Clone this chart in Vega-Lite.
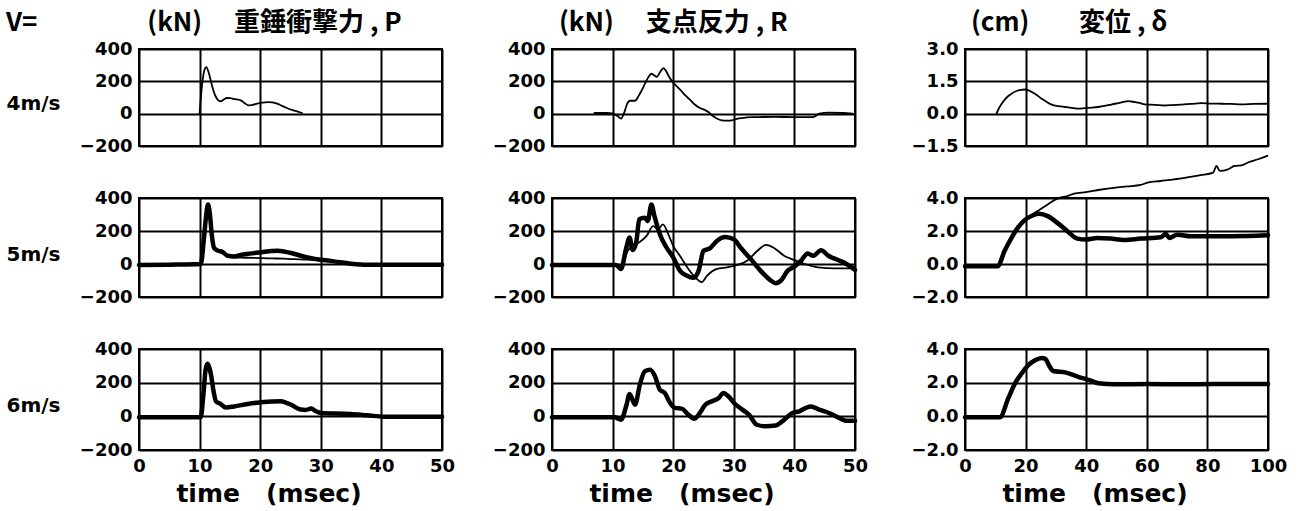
{
  "$schema": "https://vega.github.io/schema/vega-lite/v6.json",
  "background": "white",
  "padding": {"left": 5, "top": 9, "right": 10, "bottom": 5},
  "datasets": {
    "d": [
      {"v":"4","q":"P","s":"B","t":10.0,"y":0},{"v":"4","q":"P","s":"B","t":10.4,"y":175},{"v":"4","q":"P","s":"B","t":10.8,"y":270},{"v":"4","q":"P","s":"B","t":11.1,"y":288},{"v":"4","q":"P","s":"B","t":11.5,"y":255},{"v":"4","q":"P","s":"B","t":11.9,"y":195},{"v":"4","q":"P","s":"B","t":12.3,"y":140},{"v":"4","q":"P","s":"B","t":12.7,"y":103},{"v":"4","q":"P","s":"B","t":13.1,"y":82},{"v":"4","q":"P","s":"B","t":13.5,"y":76},{"v":"4","q":"P","s":"B","t":14.0,"y":88},{"v":"4","q":"P","s":"B","t":14.5,"y":97},{"v":"4","q":"P","s":"B","t":15.1,"y":96},{"v":"4","q":"P","s":"B","t":15.6,"y":92},{"v":"4","q":"P","s":"B","t":16.2,"y":88},{"v":"4","q":"P","s":"B","t":16.8,"y":82},{"v":"4","q":"P","s":"B","t":17.4,"y":66},{"v":"4","q":"P","s":"B","t":18.1,"y":51},{"v":"4","q":"P","s":"B","t":18.8,"y":55},{"v":"4","q":"P","s":"B","t":19.5,"y":62},{"v":"4","q":"P","s":"B","t":20.3,"y":68},{"v":"4","q":"P","s":"B","t":21.2,"y":72},{"v":"4","q":"P","s":"B","t":22.0,"y":70},{"v":"4","q":"P","s":"B","t":22.8,"y":62},{"v":"4","q":"P","s":"B","t":23.6,"y":48},{"v":"4","q":"P","s":"B","t":24.4,"y":35},{"v":"4","q":"P","s":"B","t":25.5,"y":20},{"v":"4","q":"P","s":"B","t":26.9,"y":4},

      {"v":"4","q":"R","s":"B","t":7.0,"y":4},{"v":"4","q":"R","s":"B","t":9.0,"y":4},{"v":"4","q":"R","s":"B","t":10.0,"y":2},{"v":"4","q":"R","s":"B","t":10.8,"y":-15},{"v":"4","q":"R","s":"B","t":11.4,"y":-31},{"v":"4","q":"R","s":"B","t":11.9,"y":5},{"v":"4","q":"R","s":"B","t":12.4,"y":60},{"v":"4","q":"R","s":"B","t":12.8,"y":80},{"v":"4","q":"R","s":"B","t":13.3,"y":80},{"v":"4","q":"R","s":"B","t":13.7,"y":80},{"v":"4","q":"R","s":"B","t":14.3,"y":110},{"v":"4","q":"R","s":"B","t":14.8,"y":144},{"v":"4","q":"R","s":"B","t":15.4,"y":190},{"v":"4","q":"R","s":"B","t":15.9,"y":226},{"v":"4","q":"R","s":"B","t":16.4,"y":247},{"v":"4","q":"R","s":"B","t":16.9,"y":236},{"v":"4","q":"R","s":"B","t":17.3,"y":228},{"v":"4","q":"R","s":"B","t":17.8,"y":255},{"v":"4","q":"R","s":"B","t":18.4,"y":282},{"v":"4","q":"R","s":"B","t":18.8,"y":265},{"v":"4","q":"R","s":"B","t":19.2,"y":236},{"v":"4","q":"R","s":"B","t":19.8,"y":200},{"v":"4","q":"R","s":"B","t":20.3,"y":180},{"v":"4","q":"R","s":"B","t":21.1,"y":150},{"v":"4","q":"R","s":"B","t":22.0,"y":113},{"v":"4","q":"R","s":"B","t":22.8,"y":85},{"v":"4","q":"R","s":"B","t":23.6,"y":55},{"v":"4","q":"R","s":"B","t":24.4,"y":35},{"v":"4","q":"R","s":"B","t":25.3,"y":21},{"v":"4","q":"R","s":"B","t":25.9,"y":8},{"v":"4","q":"R","s":"B","t":26.4,"y":-10},{"v":"4","q":"R","s":"B","t":27.2,"y":-30},{"v":"4","q":"R","s":"B","t":28.0,"y":-41},{"v":"4","q":"R","s":"B","t":28.9,"y":-43},{"v":"4","q":"R","s":"B","t":29.7,"y":-41},{"v":"4","q":"R","s":"B","t":30.5,"y":-32},{"v":"4","q":"R","s":"B","t":31.4,"y":-27},{"v":"4","q":"R","s":"B","t":33.0,"y":-22},{"v":"4","q":"R","s":"B","t":34.1,"y":-21},{"v":"4","q":"R","s":"B","t":36.9,"y":-20},{"v":"4","q":"R","s":"B","t":39.7,"y":-21},{"v":"4","q":"R","s":"B","t":43.0,"y":-21},{"v":"4","q":"R","s":"B","t":43.6,"y":-12},{"v":"4","q":"R","s":"B","t":44.1,"y":0},{"v":"4","q":"R","s":"B","t":45.7,"y":6},{"v":"4","q":"R","s":"B","t":48.0,"y":4},{"v":"4","q":"R","s":"B","t":49.6,"y":0},

      {"v":"4","q":"D","s":"B","t":10.4,"y":0},{"v":"4","q":"D","s":"B","t":11.2,"y":0.25},{"v":"4","q":"D","s":"B","t":12.1,"y":0.46},{"v":"4","q":"D","s":"B","t":13.2,"y":0.66},{"v":"4","q":"D","s":"B","t":14.3,"y":0.82},{"v":"4","q":"D","s":"B","t":15.6,"y":0.95},{"v":"4","q":"D","s":"B","t":17.0,"y":1.05},{"v":"4","q":"D","s":"B","t":18.4,"y":1.10},{"v":"4","q":"D","s":"B","t":19.8,"y":1.12},{"v":"4","q":"D","s":"B","t":21.2,"y":1.07},{"v":"4","q":"D","s":"B","t":22.5,"y":0.97},{"v":"4","q":"D","s":"B","t":23.9,"y":0.84},{"v":"4","q":"D","s":"B","t":25.3,"y":0.69},{"v":"4","q":"D","s":"B","t":26.9,"y":0.55},{"v":"4","q":"D","s":"B","t":28.6,"y":0.42},{"v":"4","q":"D","s":"B","t":30.8,"y":0.35},{"v":"4","q":"D","s":"B","t":33.0,"y":0.31},{"v":"4","q":"D","s":"B","t":35.2,"y":0.27},{"v":"4","q":"D","s":"B","t":37.4,"y":0.23},{"v":"4","q":"D","s":"B","t":39.8,"y":0.26},{"v":"4","q":"D","s":"B","t":42.0,"y":0.28},{"v":"4","q":"D","s":"B","t":44.0,"y":0.31},{"v":"4","q":"D","s":"B","t":46.8,"y":0.38},{"v":"4","q":"D","s":"B","t":49.5,"y":0.46},{"v":"4","q":"D","s":"B","t":51.7,"y":0.52},{"v":"4","q":"D","s":"B","t":53.8,"y":0.58},{"v":"4","q":"D","s":"B","t":56.0,"y":0.54},{"v":"4","q":"D","s":"B","t":57.6,"y":0.50},{"v":"4","q":"D","s":"B","t":59.3,"y":0.43},{"v":"4","q":"D","s":"B","t":62.6,"y":0.41},{"v":"4","q":"D","s":"B","t":65.9,"y":0.38},{"v":"4","q":"D","s":"B","t":68.6,"y":0.40},{"v":"4","q":"D","s":"B","t":71.4,"y":0.42},{"v":"4","q":"D","s":"B","t":74.7,"y":0.45},{"v":"4","q":"D","s":"B","t":78.0,"y":0.49},{"v":"4","q":"D","s":"B","t":81.3,"y":0.47},{"v":"4","q":"D","s":"B","t":84.6,"y":0.46},{"v":"4","q":"D","s":"B","t":87.9,"y":0.45},{"v":"4","q":"D","s":"B","t":91.2,"y":0.43},{"v":"4","q":"D","s":"B","t":95.3,"y":0.45},{"v":"4","q":"D","s":"B","t":99.5,"y":0.46},

      {"v":"5","q":"P","s":"A","t":0,"y":-6},{"v":"5","q":"P","s":"A","t":5,"y":-4},{"v":"5","q":"P","s":"A","t":10.2,"y":0},{"v":"5","q":"P","s":"A","t":10.7,"y":150},{"v":"5","q":"P","s":"A","t":11.1,"y":300},{"v":"5","q":"P","s":"A","t":11.4,"y":360},{"v":"5","q":"P","s":"A","t":11.7,"y":300},{"v":"5","q":"P","s":"A","t":12.0,"y":180},{"v":"5","q":"P","s":"A","t":12.4,"y":97},{"v":"5","q":"P","s":"A","t":13.0,"y":81},{"v":"5","q":"P","s":"A","t":13.8,"y":73},{"v":"5","q":"P","s":"A","t":14.6,"y":50},{"v":"5","q":"P","s":"A","t":15.7,"y":46},{"v":"5","q":"P","s":"A","t":16.8,"y":55},{"v":"5","q":"P","s":"A","t":17.9,"y":61},{"v":"5","q":"P","s":"A","t":19.0,"y":66},{"v":"5","q":"P","s":"A","t":20.1,"y":71},{"v":"5","q":"P","s":"A","t":21.5,"y":77},{"v":"5","q":"P","s":"A","t":22.9,"y":81},{"v":"5","q":"P","s":"A","t":24.0,"y":75},{"v":"5","q":"P","s":"A","t":25.1,"y":67},{"v":"5","q":"P","s":"A","t":26.4,"y":53},{"v":"5","q":"P","s":"A","t":27.8,"y":40},{"v":"5","q":"P","s":"A","t":29.0,"y":31},{"v":"5","q":"P","s":"A","t":30.0,"y":26},{"v":"5","q":"P","s":"A","t":32.2,"y":16},{"v":"5","q":"P","s":"A","t":35.0,"y":2},{"v":"5","q":"P","s":"A","t":37.7,"y":-4},{"v":"5","q":"P","s":"A","t":43.2,"y":-4},{"v":"5","q":"P","s":"A","t":50.0,"y":-4},

      {"v":"5","q":"P","s":"B","t":10.2,"y":0},{"v":"5","q":"P","s":"B","t":10.7,"y":140},{"v":"5","q":"P","s":"B","t":11.1,"y":290},{"v":"5","q":"P","s":"B","t":11.4,"y":340},{"v":"5","q":"P","s":"B","t":11.7,"y":290},{"v":"5","q":"P","s":"B","t":12.0,"y":170},{"v":"5","q":"P","s":"B","t":12.4,"y":95},{"v":"5","q":"P","s":"B","t":13.0,"y":78},{"v":"5","q":"P","s":"B","t":13.8,"y":65},{"v":"5","q":"P","s":"B","t":14.6,"y":48},{"v":"5","q":"P","s":"B","t":15.7,"y":40},{"v":"5","q":"P","s":"B","t":17.5,"y":38},{"v":"5","q":"P","s":"B","t":20.1,"y":36},{"v":"5","q":"P","s":"B","t":22.0,"y":34},{"v":"5","q":"P","s":"B","t":23.9,"y":32},{"v":"5","q":"P","s":"B","t":25.8,"y":29},{"v":"5","q":"P","s":"B","t":27.8,"y":26},{"v":"5","q":"P","s":"B","t":30.0,"y":20},{"v":"5","q":"P","s":"B","t":32.2,"y":12},{"v":"5","q":"P","s":"B","t":35.0,"y":4},{"v":"5","q":"P","s":"B","t":37.7,"y":0},{"v":"5","q":"P","s":"B","t":42.0,"y":-2},{"v":"5","q":"P","s":"B","t":50.0,"y":-2},

      {"v":"5","q":"R","s":"A","t":0,"y":-6},{"v":"5","q":"R","s":"A","t":10.6,"y":-6},{"v":"5","q":"R","s":"A","t":11.4,"y":-30},{"v":"5","q":"R","s":"A","t":12.2,"y":90},{"v":"5","q":"R","s":"A","t":12.8,"y":160},{"v":"5","q":"R","s":"A","t":13.3,"y":85},{"v":"5","q":"R","s":"A","t":13.9,"y":131},{"v":"5","q":"R","s":"A","t":14.4,"y":271},{"v":"5","q":"R","s":"A","t":15.3,"y":281},{"v":"5","q":"R","s":"A","t":15.8,"y":261},{"v":"5","q":"R","s":"A","t":16.4,"y":360},{"v":"5","q":"R","s":"A","t":16.9,"y":291},{"v":"5","q":"R","s":"A","t":17.8,"y":180},{"v":"5","q":"R","s":"A","t":18.9,"y":100},{"v":"5","q":"R","s":"A","t":20.0,"y":40},{"v":"5","q":"R","s":"A","t":21.1,"y":-40},{"v":"5","q":"R","s":"A","t":22.2,"y":-70},{"v":"5","q":"R","s":"A","t":23.3,"y":-84},{"v":"5","q":"R","s":"A","t":24.2,"y":-40},{"v":"5","q":"R","s":"A","t":25.0,"y":80},{"v":"5","q":"R","s":"A","t":26.1,"y":96},{"v":"5","q":"R","s":"A","t":27.2,"y":140},{"v":"5","q":"R","s":"A","t":28.6,"y":164},{"v":"5","q":"R","s":"A","t":30.0,"y":150},{"v":"5","q":"R","s":"A","t":31.1,"y":100},{"v":"5","q":"R","s":"A","t":32.8,"y":30},{"v":"5","q":"R","s":"A","t":34.4,"y":-40},{"v":"5","q":"R","s":"A","t":36.1,"y":-100},{"v":"5","q":"R","s":"A","t":36.9,"y":-116},{"v":"5","q":"R","s":"A","t":37.8,"y":-100},{"v":"5","q":"R","s":"A","t":38.9,"y":-40},{"v":"5","q":"R","s":"A","t":40.0,"y":-16},{"v":"5","q":"R","s":"A","t":41.1,"y":20},{"v":"5","q":"R","s":"A","t":42.2,"y":64},{"v":"5","q":"R","s":"A","t":43.1,"y":50},{"v":"5","q":"R","s":"A","t":44.4,"y":84},{"v":"5","q":"R","s":"A","t":45.6,"y":50},{"v":"5","q":"R","s":"A","t":47.2,"y":24},{"v":"5","q":"R","s":"A","t":48.6,"y":0},{"v":"5","q":"R","s":"A","t":50.0,"y":-36},

      {"v":"5","q":"R","s":"B","t":0,"y":-4},{"v":"5","q":"R","s":"B","t":10.6,"y":-4},{"v":"5","q":"R","s":"B","t":11.4,"y":-20},{"v":"5","q":"R","s":"B","t":12.5,"y":80},{"v":"5","q":"R","s":"B","t":13.3,"y":110},{"v":"5","q":"R","s":"B","t":14.4,"y":131},{"v":"5","q":"R","s":"B","t":15.6,"y":170},{"v":"5","q":"R","s":"B","t":16.7,"y":230},{"v":"5","q":"R","s":"B","t":17.5,"y":210},{"v":"5","q":"R","s":"B","t":18.3,"y":240},{"v":"5","q":"R","s":"B","t":19.2,"y":180},{"v":"5","q":"R","s":"B","t":20.0,"y":110},{"v":"5","q":"R","s":"B","t":21.1,"y":50},{"v":"5","q":"R","s":"B","t":22.5,"y":-30},{"v":"5","q":"R","s":"B","t":23.9,"y":-90},{"v":"5","q":"R","s":"B","t":24.7,"y":-110},{"v":"5","q":"R","s":"B","t":25.6,"y":-70},{"v":"5","q":"R","s":"B","t":27.2,"y":-30},{"v":"5","q":"R","s":"B","t":28.9,"y":-20},{"v":"5","q":"R","s":"B","t":30.6,"y":-6},{"v":"5","q":"R","s":"B","t":32.2,"y":20},{"v":"5","q":"R","s":"B","t":33.9,"y":80},{"v":"5","q":"R","s":"B","t":35.3,"y":116},{"v":"5","q":"R","s":"B","t":36.7,"y":96},{"v":"5","q":"R","s":"B","t":38.3,"y":50},{"v":"5","q":"R","s":"B","t":40.0,"y":24},{"v":"5","q":"R","s":"B","t":41.7,"y":0},{"v":"5","q":"R","s":"B","t":43.9,"y":-20},{"v":"5","q":"R","s":"B","t":46.7,"y":-26},{"v":"5","q":"R","s":"B","t":50.0,"y":-26},

      {"v":"5","q":"D","s":"A","t":0,"y":-0.14},{"v":"5","q":"D","s":"A","t":10.8,"y":-0.14},{"v":"5","q":"D","s":"A","t":13.0,"y":0.77},{"v":"5","q":"D","s":"A","t":15.2,"y":1.54},{"v":"5","q":"D","s":"A","t":17.4,"y":2.19},{"v":"5","q":"D","s":"A","t":19.6,"y":2.64},{"v":"5","q":"D","s":"A","t":22.3,"y":2.94},{"v":"5","q":"D","s":"A","t":24.5,"y":3.04},{"v":"5","q":"D","s":"A","t":27.3,"y":2.90},{"v":"5","q":"D","s":"A","t":30.5,"y":2.49},{"v":"5","q":"D","s":"A","t":33.8,"y":1.99},{"v":"5","q":"D","s":"A","t":37.1,"y":1.54},{"v":"5","q":"D","s":"A","t":39.9,"y":1.48},{"v":"5","q":"D","s":"A","t":43.7,"y":1.58},{"v":"5","q":"D","s":"A","t":48.1,"y":1.54},{"v":"5","q":"D","s":"A","t":52.5,"y":1.46},{"v":"5","q":"D","s":"A","t":58.0,"y":1.54},{"v":"5","q":"D","s":"A","t":64.6,"y":1.62},{"v":"5","q":"D","s":"A","t":66.3,"y":1.82},{"v":"5","q":"D","s":"A","t":67.4,"y":1.58},{"v":"5","q":"D","s":"A","t":70.1,"y":1.78},{"v":"5","q":"D","s":"A","t":74.5,"y":1.68},{"v":"5","q":"D","s":"A","t":82.2,"y":1.68},{"v":"5","q":"D","s":"A","t":93.2,"y":1.70},{"v":"5","q":"D","s":"A","t":100,"y":1.74},

      {"v":"5","q":"D","s":"B","t":10.8,"y":-0.14},{"v":"5","q":"D","s":"B","t":13.0,"y":0.77},{"v":"5","q":"D","s":"B","t":15.2,"y":1.54},{"v":"5","q":"D","s":"B","t":17.4,"y":2.19},{"v":"5","q":"D","s":"B","t":19.6,"y":2.55},{"v":"5","q":"D","s":"B","t":20.7,"y":2.80},{"v":"5","q":"D","s":"B","t":24.0,"y":3.21},{"v":"5","q":"D","s":"B","t":27.3,"y":3.61},{"v":"5","q":"D","s":"B","t":30.5,"y":3.96},{"v":"5","q":"D","s":"B","t":33.8,"y":4.12},{"v":"5","q":"D","s":"B","t":36.0,"y":4.26},{"v":"5","q":"D","s":"B","t":39.9,"y":4.36},{"v":"5","q":"D","s":"B","t":44.5,"y":4.50},{"v":"5","q":"D","s":"B","t":49.2,"y":4.62},{"v":"5","q":"D","s":"B","t":53.5,"y":4.70},{"v":"5","q":"D","s":"B","t":58.0,"y":4.79},{"v":"5","q":"D","s":"B","t":60.2,"y":4.93},{"v":"5","q":"D","s":"B","t":64.6,"y":5.03},{"v":"5","q":"D","s":"B","t":69.0,"y":5.13},{"v":"5","q":"D","s":"B","t":73.4,"y":5.25},{"v":"5","q":"D","s":"B","t":77.8,"y":5.38},{"v":"5","q":"D","s":"B","t":81.9,"y":5.54},{"v":"5","q":"D","s":"B","t":83.0,"y":5.94},{"v":"5","q":"D","s":"B","t":84.1,"y":5.64},{"v":"5","q":"D","s":"B","t":86.8,"y":5.74},{"v":"5","q":"D","s":"B","t":89.0,"y":5.94},{"v":"5","q":"D","s":"B","t":91.2,"y":5.98},{"v":"5","q":"D","s":"B","t":93.4,"y":6.15},{"v":"5","q":"D","s":"B","t":96.7,"y":6.35},{"v":"5","q":"D","s":"B","t":99.8,"y":6.56},

      {"v":"6","q":"P","s":"A","t":0,"y":-6},{"v":"6","q":"P","s":"A","t":10.2,"y":-6},{"v":"6","q":"P","s":"A","t":10.6,"y":120},{"v":"6","q":"P","s":"A","t":11.0,"y":280},{"v":"6","q":"P","s":"A","t":11.3,"y":312},{"v":"6","q":"P","s":"A","t":11.6,"y":290},{"v":"6","q":"P","s":"A","t":11.9,"y":244},{"v":"6","q":"P","s":"A","t":12.3,"y":150},{"v":"6","q":"P","s":"A","t":12.7,"y":89},{"v":"6","q":"P","s":"A","t":13.5,"y":73},{"v":"6","q":"P","s":"A","t":14.3,"y":53},{"v":"6","q":"P","s":"A","t":15.7,"y":59},{"v":"6","q":"P","s":"A","t":17.9,"y":73},{"v":"6","q":"P","s":"A","t":20.6,"y":85},{"v":"6","q":"P","s":"A","t":23.4,"y":89},{"v":"6","q":"P","s":"A","t":24.2,"y":82},{"v":"6","q":"P","s":"A","t":25.1,"y":69},{"v":"6","q":"P","s":"A","t":26.7,"y":40},{"v":"6","q":"P","s":"A","t":27.5,"y":38},{"v":"6","q":"P","s":"A","t":28.4,"y":46},{"v":"6","q":"P","s":"A","t":29.2,"y":30},{"v":"6","q":"P","s":"A","t":30.0,"y":20},{"v":"6","q":"P","s":"A","t":34.9,"y":14},{"v":"6","q":"P","s":"A","t":37.7,"y":6},{"v":"6","q":"P","s":"A","t":40.4,"y":-2},{"v":"6","q":"P","s":"A","t":50.0,"y":-2},

      {"v":"6","q":"R","s":"A","t":0,"y":-6},{"v":"6","q":"R","s":"A","t":10.3,"y":-6},{"v":"6","q":"R","s":"A","t":11.4,"y":-20},{"v":"6","q":"R","s":"A","t":12.3,"y":69},{"v":"6","q":"R","s":"A","t":12.8,"y":133},{"v":"6","q":"R","s":"A","t":13.7,"y":69},{"v":"6","q":"R","s":"A","t":14.5,"y":188},{"v":"6","q":"R","s":"A","t":15.3,"y":267},{"v":"6","q":"R","s":"A","t":16.2,"y":277},{"v":"6","q":"R","s":"A","t":17.0,"y":238},{"v":"6","q":"R","s":"A","t":17.8,"y":158},{"v":"6","q":"R","s":"A","t":18.6,"y":139},{"v":"6","q":"R","s":"A","t":19.5,"y":79},{"v":"6","q":"R","s":"A","t":20.3,"y":50},{"v":"6","q":"R","s":"A","t":21.4,"y":46},{"v":"6","q":"R","s":"A","t":22.5,"y":10},{"v":"6","q":"R","s":"A","t":23.5,"y":-14},{"v":"6","q":"R","s":"A","t":24.4,"y":20},{"v":"6","q":"R","s":"A","t":25.3,"y":69},{"v":"6","q":"R","s":"A","t":26.4,"y":89},{"v":"6","q":"R","s":"A","t":27.5,"y":109},{"v":"6","q":"R","s":"A","t":28.3,"y":139},{"v":"6","q":"R","s":"A","t":29.1,"y":119},{"v":"6","q":"R","s":"A","t":30.3,"y":69},{"v":"6","q":"R","s":"A","t":31.4,"y":40},{"v":"6","q":"R","s":"A","t":32.5,"y":10},{"v":"6","q":"R","s":"A","t":33.8,"y":-50},{"v":"6","q":"R","s":"A","t":35.2,"y":-59},{"v":"6","q":"R","s":"A","t":36.9,"y":-55},{"v":"6","q":"R","s":"A","t":38.0,"y":-30},{"v":"6","q":"R","s":"A","t":39.7,"y":20},{"v":"6","q":"R","s":"A","t":40.8,"y":30},{"v":"6","q":"R","s":"A","t":41.9,"y":50},{"v":"6","q":"R","s":"A","t":42.7,"y":59},{"v":"6","q":"R","s":"A","t":44.1,"y":40},{"v":"6","q":"R","s":"A","t":45.7,"y":20},{"v":"6","q":"R","s":"A","t":47.4,"y":-10},{"v":"6","q":"R","s":"A","t":48.5,"y":-26},{"v":"6","q":"R","s":"A","t":50.0,"y":-26},

      {"v":"6","q":"D","s":"A","t":0,"y":-0.06},{"v":"6","q":"D","s":"A","t":11.5,"y":-0.06},{"v":"6","q":"D","s":"A","t":14.3,"y":1.08},{"v":"6","q":"D","s":"A","t":16.5,"y":1.96},{"v":"6","q":"D","s":"A","t":18.7,"y":2.55},{"v":"6","q":"D","s":"A","t":20.9,"y":3.04},{"v":"6","q":"D","s":"A","t":23.1,"y":3.33},{"v":"6","q":"D","s":"A","t":25.3,"y":3.47},{"v":"6","q":"D","s":"A","t":26.4,"y":3.43},{"v":"6","q":"D","s":"A","t":28.0,"y":2.94},{"v":"6","q":"D","s":"A","t":29.1,"y":2.69},{"v":"6","q":"D","s":"A","t":33.0,"y":2.61},{"v":"6","q":"D","s":"A","t":37.4,"y":2.35},{"v":"6","q":"D","s":"A","t":41.8,"y":2.10},{"v":"6","q":"D","s":"A","t":44.0,"y":1.96},{"v":"6","q":"D","s":"A","t":49.5,"y":1.90},{"v":"6","q":"D","s":"A","t":60.4,"y":1.92},{"v":"6","q":"D","s":"A","t":71.4,"y":1.90},{"v":"6","q":"D","s":"A","t":82.4,"y":1.92},{"v":"6","q":"D","s":"A","t":100,"y":1.92}
    ]
  },
  "data": {"name": "d"},
  "columns": 3,
  "bounds": "flush",
  "spacing": {"row": 52, "column": 110},
  "concat": [
    {
      "width": 303, "height": 97,
      "title": {"text": "V=\u3000\u3000\u3000\u3000\u00a0(kN)\u3000\u00a0重錘衝撃力\u00a0,\u00a0P", "dx": -133},
      "transform": [{"filter": "datum.v=='4' && datum.q=='P'"}],
      "mark": {"type": "line", "color": "black", "interpolate": "monotone", "strokeJoin": "round", "strokeCap": "round"},
      "encoding": {
        "x": {"field": "t", "type": "quantitative", "scale": {"domain": [0, 50], "nice": false}, "axis": {"values": [0,10,20,30,40,50], "labels": false, "title": null}},
        "y": {"field": "y", "type": "quantitative", "scale": {"domain": [-200, 400], "nice": false}, "axis": {"values": [-200,0,200,400], "title": "4m/s", "titleY": 60}},
        "strokeWidth": {"field": "s", "type": "nominal", "scale": {"domain": ["A","B"], "range": [4.5, 1.8]}, "legend": null}
      }
    },
    {
      "width": 303, "height": 97,
      "title": {"text": "(kN)\u3000\u00a0支点反力\u00a0,\u00a0R", "dx": 7},
      "transform": [{"filter": "datum.v=='4' && datum.q=='R'"}],
      "mark": {"type": "line", "color": "black", "interpolate": "monotone", "strokeJoin": "round", "strokeCap": "round"},
      "encoding": {
        "x": {"field": "t", "type": "quantitative", "scale": {"domain": [0, 50], "nice": false}, "axis": {"values": [0,10,20,30,40,50], "labels": false, "title": null}},
        "y": {"field": "y", "type": "quantitative", "scale": {"domain": [-200, 400], "nice": false}, "axis": {"values": [-200,0,200,400], "title": null}},
        "strokeWidth": {"field": "s", "type": "nominal", "scale": {"domain": ["A","B"], "range": [4.5, 1.8]}, "legend": null}
      }
    },
    {
      "width": 303, "height": 97,
      "title": {"text": "(cm)\u3000\u00a0\u00a0\u00a0\u00a0変位\u00a0,\u00a0δ", "dx": 6},
      "transform": [{"filter": "datum.v=='4' && datum.q=='D'"}],
      "mark": {"type": "line", "color": "black", "interpolate": "monotone", "strokeJoin": "round", "strokeCap": "round"},
      "encoding": {
        "x": {"field": "t", "type": "quantitative", "scale": {"domain": [0, 100], "nice": false}, "axis": {"values": [0,20,40,60,80,100], "labels": false, "title": null}},
        "y": {"field": "y", "type": "quantitative", "scale": {"domain": [-1.5, 3], "nice": false}, "axis": {"values": [-1.5,0,1.5,3], "format": ".1f", "title": null}},
        "strokeWidth": {"field": "s", "type": "nominal", "scale": {"domain": ["A","B"], "range": [4.5, 1.8]}, "legend": null}
      }
    },
    {
      "width": 303, "height": 99,
      "transform": [{"filter": "datum.v=='5' && datum.q=='P'"}],
      "mark": {"type": "line", "color": "black", "interpolate": "monotone", "strokeJoin": "round", "strokeCap": "round"},
      "encoding": {
        "x": {"field": "t", "type": "quantitative", "scale": {"domain": [0, 50], "nice": false}, "axis": {"values": [0,10,20,30,40,50], "labels": false, "title": null}},
        "y": {"field": "y", "type": "quantitative", "scale": {"domain": [-200, 400], "nice": false}, "axis": {"values": [-200,0,200,400], "title": "5m/s", "titleY": 62}},
        "strokeWidth": {"field": "s", "type": "nominal", "scale": {"domain": ["A","B"], "range": [4.5, 1.8]}, "legend": null}
      }
    },
    {
      "width": 303, "height": 99,
      "transform": [{"filter": "datum.v=='5' && datum.q=='R'"}],
      "mark": {"type": "line", "color": "black", "interpolate": "monotone", "strokeJoin": "round", "strokeCap": "round"},
      "encoding": {
        "x": {"field": "t", "type": "quantitative", "scale": {"domain": [0, 50], "nice": false}, "axis": {"values": [0,10,20,30,40,50], "labels": false, "title": null}},
        "y": {"field": "y", "type": "quantitative", "scale": {"domain": [-200, 400], "nice": false}, "axis": {"values": [-200,0,200,400], "title": null}},
        "strokeWidth": {"field": "s", "type": "nominal", "scale": {"domain": ["A","B"], "range": [4.5, 1.8]}, "legend": null}
      }
    },
    {
      "width": 303, "height": 99,
      "transform": [{"filter": "datum.v=='5' && datum.q=='D'"}],
      "mark": {"type": "line", "color": "black", "interpolate": "monotone", "strokeJoin": "round", "strokeCap": "round"},
      "encoding": {
        "x": {"field": "t", "type": "quantitative", "scale": {"domain": [0, 100], "nice": false}, "axis": {"values": [0,20,40,60,80,100], "labels": false, "title": null}},
        "y": {"field": "y", "type": "quantitative", "scale": {"domain": [-2, 4], "nice": false}, "axis": {"values": [-2,0,2,4], "format": ".1f", "title": null}},
        "strokeWidth": {"field": "s", "type": "nominal", "scale": {"domain": ["A","B"], "range": [4.5, 1.8]}, "legend": null}
      }
    },
    {
      "width": 303, "height": 101,
      "transform": [{"filter": "datum.v=='6' && datum.q=='P'"}],
      "mark": {"type": "line", "color": "black", "interpolate": "monotone", "strokeJoin": "round", "strokeCap": "round"},
      "encoding": {
        "x": {"field": "t", "type": "quantitative", "scale": {"domain": [0, 50], "nice": false}, "axis": {"values": [0,10,20,30,40,50], "title": "time\u00a0\u00a0\u00a0(msec)"}},
        "y": {"field": "y", "type": "quantitative", "scale": {"domain": [-200, 400], "nice": false}, "axis": {"values": [-200,0,200,400], "title": "6m/s", "titleY": 62}},
        "strokeWidth": {"field": "s", "type": "nominal", "scale": {"domain": ["A","B"], "range": [4.5, 1.8]}, "legend": null}
      }
    },
    {
      "width": 303, "height": 101,
      "transform": [{"filter": "datum.v=='6' && datum.q=='R'"}],
      "mark": {"type": "line", "color": "black", "interpolate": "monotone", "strokeJoin": "round", "strokeCap": "round"},
      "encoding": {
        "x": {"field": "t", "type": "quantitative", "scale": {"domain": [0, 50], "nice": false}, "axis": {"values": [0,10,20,30,40,50], "title": "time\u00a0\u00a0\u00a0(msec)"}},
        "y": {"field": "y", "type": "quantitative", "scale": {"domain": [-200, 400], "nice": false}, "axis": {"values": [-200,0,200,400], "title": null}},
        "strokeWidth": {"field": "s", "type": "nominal", "scale": {"domain": ["A","B"], "range": [4.5, 1.8]}, "legend": null}
      }
    },
    {
      "width": 303, "height": 101,
      "transform": [{"filter": "datum.v=='6' && datum.q=='D'"}],
      "mark": {"type": "line", "color": "black", "interpolate": "monotone", "strokeJoin": "round", "strokeCap": "round"},
      "encoding": {
        "x": {"field": "t", "type": "quantitative", "scale": {"domain": [0, 100], "nice": false}, "axis": {"values": [0,20,40,60,80,100], "title": "time\u00a0\u00a0\u00a0(msec)"}},
        "y": {"field": "y", "type": "quantitative", "scale": {"domain": [-2, 4], "nice": false}, "axis": {"values": [-2,0,2,4], "format": ".1f", "title": null}},
        "strokeWidth": {"field": "s", "type": "nominal", "scale": {"domain": ["A","B"], "range": [4.5, 1.8]}, "legend": null}
      }
    }
  ],
  "config": {
    "view": {"stroke": "black", "strokeWidth": 2},
    "axis": {
      "domain": false, "ticks": false, "grid": true, "gridColor": "black", "gridWidth": 2, "gridOpacity": 1,
      "labelFont": "DejaVu Sans", "labelFontWeight": "bold", "labelFontSize": 18, "labelColor": "black",
      "labelFlush": false, "labelOverlap": false, "titleColor": "black"
    },
    "axisX": {
      "labelPadding": 7, "labelBaseline": "top",
      "titleFont": "DejaVu Sans", "titleFontSize": 25, "titleFontWeight": "bold",
      "titleX": 129.5, "titleY": 51, "titleAlign": "center", "titleBaseline": "alphabetic", "titleAngle": 0
    },
    "axisY": {
      "labelPadding": 7,
      "titleFont": "DejaVu Sans", "titleFontSize": 20, "titleFontWeight": "bold",
      "titleAngle": 0, "titleAlign": "left", "titleBaseline": "alphabetic", "titleX": -133, "titleY": 61
    },
    "title": {
      "font": "Noto Sans CJK JP", "fontSize": 26, "fontWeight": "bold", "color": "black",
      "anchor": "start", "frame": "group", "offset": 4
    }
  }
}
